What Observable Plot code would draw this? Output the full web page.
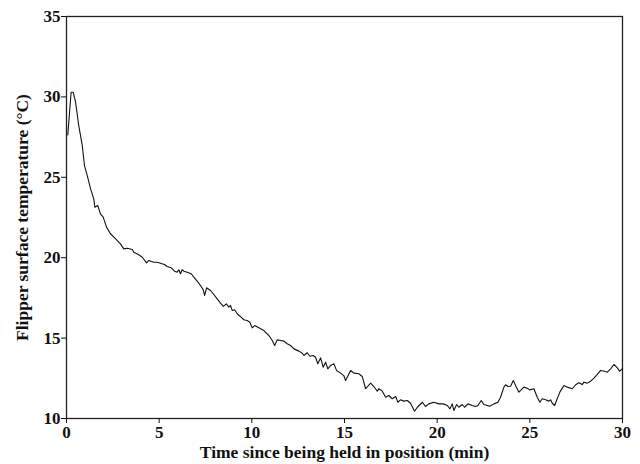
<!DOCTYPE html>
<html>
<head>
<meta charset="utf-8">
<script src="https://cdn.jsdelivr.net/npm/d3@7"></script>
<script src="https://cdn.jsdelivr.net/npm/@observablehq/plot@0.6"></script>
<style>
  html, body { margin: 0; padding: 0; background: #fff; }
</style>
</head>
<body>
<div id="chart"></div>
<script>
const time = [0.07,0.25,0.36,0.49,0.66,0.85,0.97,1.12,1.30,1.47,1.53,1.69,1.83,1.98,2.16,2.37,2.64,2.91,3.09,3.28,3.55,3.63,3.90,4.09,4.32,4.44,4.71,4.89,5.16,5.29,5.43,5.65,5.83,5.97,6.06,6.15,6.24,6.33,6.51,6.73,6.87,7.05,7.23,7.38,7.45,7.56,7.77,7.95,8.13,8.31,8.46,8.63,8.76,8.85,8.94,9.07,9.24,9.39,9.57,9.75,9.89,10.02,10.15,10.38,10.65,10.92,11.10,11.23,11.37,11.55,11.73,11.91,12.09,12.27,12.54,12.72,12.81,12.99,13.13,13.31,13.44,13.56,13.71,13.85,13.98,14.10,14.25,14.43,14.57,14.79,14.96,15.06,15.33,15.50,15.77,15.96,16.14,16.41,16.58,16.77,16.85,17.04,17.22,17.39,17.58,17.76,17.88,18.02,18.20,18.39,18.56,18.78,18.93,19.20,19.37,19.55,19.82,20.09,20.33,20.55,20.69,20.81,20.90,21.05,21.17,21.35,21.48,21.66,21.89,22.07,22.20,22.38,22.52,22.84,23.06,23.28,23.42,23.60,23.69,23.82,23.96,24.11,24.23,24.41,24.68,24.86,25.00,25.22,25.40,25.54,25.67,25.85,26.03,26.12,26.21,26.34,26.44,26.62,26.84,27.02,27.29,27.47,27.65,27.83,27.92,28.10,28.28,28.42,28.64,28.82,29.03,29.18,29.36,29.54,29.72,29.84,29.99];
const temp = [27.64,30.29,30.29,29.67,28.22,26.98,25.73,25.11,24.28,23.66,23.14,23.24,22.73,22.52,21.90,21.49,21.18,20.86,20.55,20.59,20.51,20.34,20.18,20.03,19.68,19.83,19.72,19.72,19.62,19.58,19.45,19.37,19.16,19.10,19.25,19.00,19.25,19.16,19.10,19.00,18.79,18.54,18.27,18.00,17.65,18.13,17.96,17.71,17.44,17.17,16.97,17.13,16.92,17.03,16.72,16.76,16.47,16.34,16.14,16.09,15.99,15.64,15.78,15.64,15.47,15.16,14.85,14.54,14.89,14.85,14.81,14.65,14.54,14.33,14.19,14.06,13.92,14.09,13.87,13.92,13.81,13.40,13.77,13.19,13.50,13.09,13.30,13.40,12.99,12.82,12.67,12.36,12.99,12.82,12.78,12.61,11.85,12.20,11.99,11.70,11.85,11.70,11.32,11.43,11.23,11.37,11.01,11.16,11.08,11.12,10.95,10.45,10.70,11.01,10.75,10.91,11.01,10.91,10.91,10.81,10.60,10.91,10.50,10.87,10.70,10.87,10.70,10.91,10.81,10.75,10.81,11.12,10.87,10.76,10.91,11.01,11.32,11.95,12.10,11.99,12.01,12.36,12.05,11.64,11.95,11.88,11.78,11.85,11.32,11.01,11.23,11.16,11.08,11.16,10.95,10.81,11.12,11.64,12.05,11.95,11.85,12.10,12.22,12.11,12.26,12.20,12.32,12.47,12.74,12.99,12.94,12.88,13.09,13.36,13.15,12.94,13.09];
const xTicks = [0, 5, 10, 15, 20, 25, 30];
const yTicks = [10, 15, 20, 25, 30, 35];
const xLabel = "Time since being held in position (min)";
const yLabel = "Flipper surface temperature (°C)";

const data = time.map((t, i) => ({t, v: temp[i]}));

const chart = Plot.plot({
  width: 640,
  height: 464,
  marginLeft: 66,
  marginRight: 18,
  marginTop: 16,
  marginBottom: 46,
  style: {fontFamily: "'Liberation Serif', 'DejaVu Serif', serif", fontWeight: "bold", fontSize: "17px", color: "#111", background: "#fff"},
  x: {domain: [0, 30]},
  y: {domain: [10, 35]},
  marks: [
    Plot.frame({stroke: "#222", strokeWidth: 1.3}),
    Plot.axisX({ticks: xTicks, tickSize: 5, tickPadding: 2, tickFormat: d => String(d), label: null, fontSize: 17, fontWeight: "bold"}),
    Plot.axisY({ticks: yTicks, tickSize: 5, tickPadding: 1, tickFormat: d => String(d), label: null, fontSize: 17, fontWeight: "bold"}),
    Plot.axisX({ticks: [], tickSize: 0, label: xLabel, labelAnchor: "center", labelOffset: 39, labelArrow: "none", fontSize: 17.5, fontWeight: "bold"}),
    Plot.axisY({ticks: [], tickSize: 0, label: yLabel, labelAnchor: "center", labelOffset: 51, labelArrow: "none", fontSize: 17.5, fontWeight: "bold"}),
    Plot.line(data, {x: "t", y: "v", stroke: "#111", strokeWidth: 1.1})
  ]
});
document.getElementById("chart").appendChild(chart);
</script>
</body>
</html>
